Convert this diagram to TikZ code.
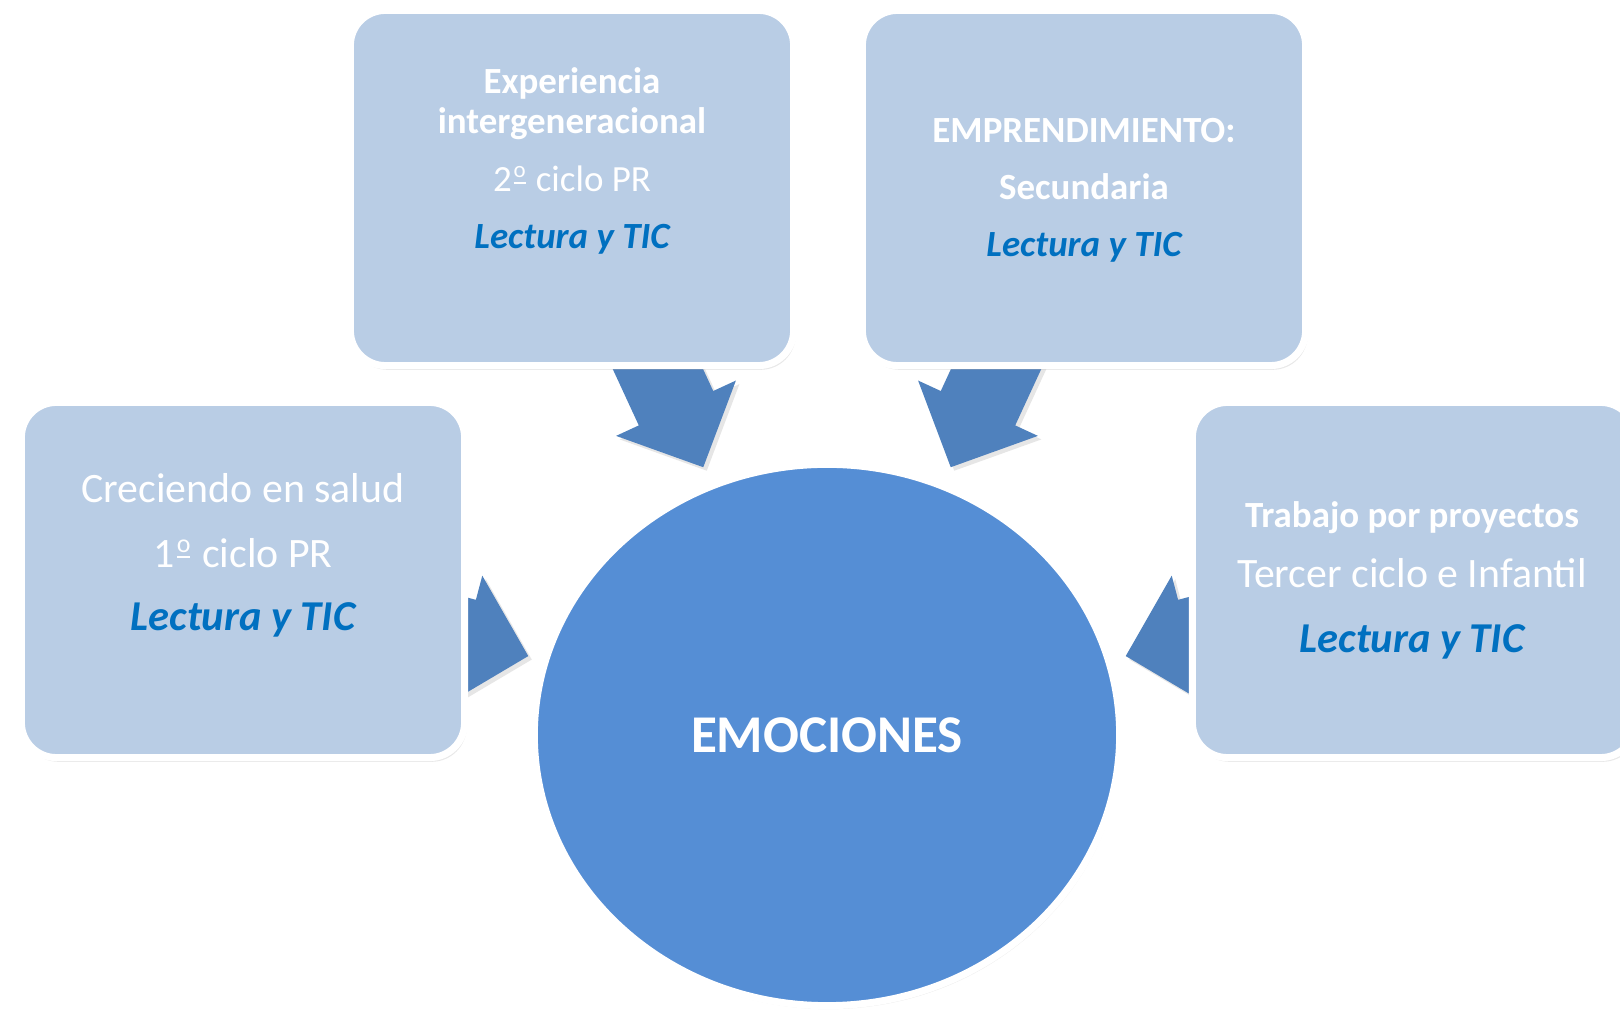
\documentclass[tikz,border=0pt]{standalone}
\usepackage{fontspec}
\setmainfont{Carlito}
\usepackage{xcolor}
\usetikzlibrary{calc, shadows, shapes.geometric}

\definecolor{boxblue}{HTML}{B9CDE5}
\definecolor{hubblue}{HTML}{558ED5}
\definecolor{arrowblue}{HTML}{4F81BD}
\definecolor{ticblue}{HTML}{0070C0}

% ordinal sign with its bar
\newcommand{\ordo}{\kern0.05em\raisebox{0.8ex}{\underline{\scalebox{0.62}{o}}}\kern0.05em}

% block arrow: tip coordinate, direction
\newcommand{\blockarrow}[2]{%
  \begin{scope}[shift={(#1)}, rotate=#2]
    \fill[arrowblue, drop shadow={opacity=0.2, shadow xshift=1pt, shadow yshift=-1pt}]
      (0,0) -- (-65,66) -- (-65,41) -- (-150,41) -- (-150,-41) -- (-65,-41) -- (-65,-66) -- cycle;
  \end{scope}}

\tikzset{
  topic/.style={rectangle, rounded corners=0.35cm, fill=boxblue, draw=white, line width=2pt,
    minimum width=4.43cm, minimum height=3.55cm,
    drop shadow={opacity=0.18, shadow xshift=0.6pt, shadow yshift=-1.2pt}},
  hub/.style={ellipse, fill=hubblue, draw=white, line width=2pt,
    minimum width=5.85cm, minimum height=5.41cm, inner sep=0pt,
    drop shadow={opacity=0.15, shadow xshift=0.5pt, shadow yshift=-1pt}},
  line/.style={text=white, anchor=base, inner sep=0pt},
  small/.style={font=\fontsize{10.5}{12}\selectfont},
  smallbold/.style={font=\fontsize{10.5}{12}\selectfont\bfseries},
  big/.style={font=\fontsize{11.9}{14}\selectfont},
  smalltic/.style={text=ticblue, font=\fontsize{10.5}{12}\selectfont\bfseries\itshape},
  bigtic/.style={text=ticblue, font=\fontsize{12.1}{14}\selectfont\bfseries\itshape},
}

\begin{document}
\begin{tikzpicture}[x=0.01cm, y=0.01cm]
    \useasboundingbox (0,0) rectangle (1620,-1013);
    \clip (0,0) rectangle (1620,-1013);

    % 1. The centre
    \node[hub] (emo) at (827,-735) {};

    % 2. Arrow tips round the centre
    \coordinate (tipTL) at ($(emo.center)+(114.8:295)$);
    \coordinate (tipTR) at ($(emo.center)+(65.2:295)$);
    \coordinate (tipL)  at ($(emo.center)+(165.2:309)$);
    \coordinate (tipR)  at ($(emo.center)+(14.8:309)$);

    \blockarrow{tipTL}{-65.2}
    \blockarrow{tipTR}{-114.8}
    \blockarrow{tipL}{-14.8}
    \blockarrow{tipR}{194.8}

    % 3. The four boxes
    \node[topic] (tl) at (572,-188) {};
    \node[topic] (tr) at (1084,-188) {};
    \node[topic] (lb) at (243,-580) {};
    \node[topic] (rb) at (1414,-580) {};

    % 4. Texts
    \node[line, smallbold] (tlA) at (572,-94) {Experiencia};
    \node[line, smallbold] (tlB) at (572,-134) {intergeneracional};
    \node[line, small] (tlC) at (572,-192) {2\ordo{} ciclo PR};
    \node[line, smalltic] (tlD) at (572,-249) {Lectura y TIC};

    \node[line, smallbold] (trA) at (1084,-143) {EMPRENDIMIENTO:};
    \node[line, smallbold] (trB) at (1084,-200) {Secundaria};
    \node[line, smalltic] (trC) at (1084,-257) {Lectura y TIC};

    \node[line, big] (lbA) at (243,-503) {Creciendo en salud};
    \node[line, big] (lbB) at (243,-568) {1\ordo{} ciclo PR};
    \node[line, bigtic] (lbC) at (243,-631) {Lectura y TIC};

    \node[line, smallbold] (rbA) at (1412,-528) {Trabajo por proyectos};
    \node[line, big] (rbB) at (1412,-588) {Tercer ciclo e Infantil};
    \node[line, bigtic] (rbC) at (1412,-653) {Lectura y TIC};

    \node[line, font=\fontsize{15.1}{18}\selectfont\bfseries] (emoText) at (827,-753) {EMOCIONES};

\end{tikzpicture}
\end{document}
